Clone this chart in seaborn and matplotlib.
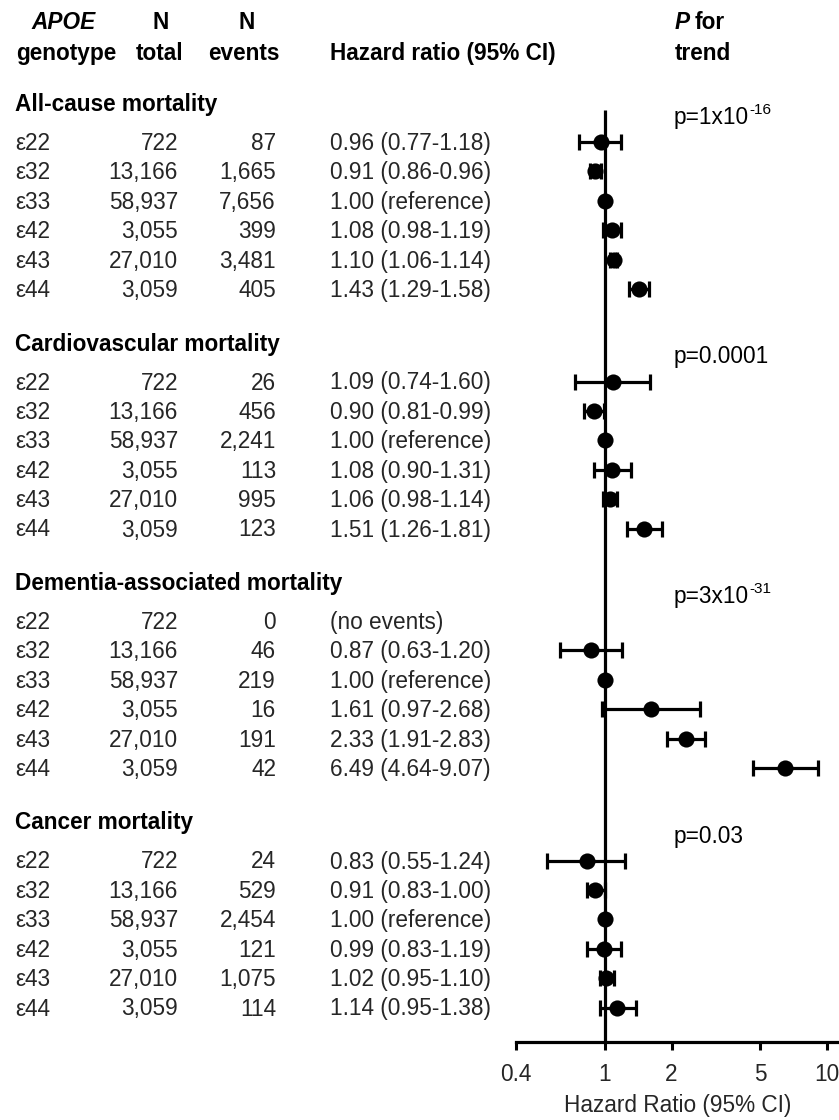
import numpy as np
import pandas as pd
import matplotlib
matplotlib.use("Agg")
import matplotlib.pyplot as plt
import seaborn as sns

# ---------------- data ----------------
outcomes = ["All-cause mortality", "Cardiovascular mortality",
            "Dementia-associated mortality", "Cancer mortality"]
genotypes = ["ε22", "ε32", "ε33", "ε42", "ε43", "ε44"]
n_total = ["722", "13,166", "58,937", "3,055", "27,010", "3,059"]

n_events_allcause = ["87", "1,665", "7,656", "399", "3,481", "405"]
n_events_cardio = ["26", "456", "2,241", "113", "995", "123"]
n_events_dementia = ["0", "46", "219", "16", "191", "42"]
n_events_cancer = ["24", "529", "2,454", "121", "1,075", "114"]

hr_allcause = [0.96, 0.91, 1.00, 1.08, 1.10, 1.43]
lo_allcause = [0.77, 0.86, np.nan, 0.98, 1.06, 1.29]
hi_allcause = [1.18, 0.96, np.nan, 1.19, 1.14, 1.58]

hr_cardio = [1.09, 0.90, 1.00, 1.08, 1.06, 1.51]
lo_cardio = [0.74, 0.81, np.nan, 0.90, 0.98, 1.26]
hi_cardio = [1.60, 0.99, np.nan, 1.31, 1.14, 1.81]

hr_dementia = [np.nan, 0.87, 1.00, 1.61, 2.33, 6.49]
lo_dementia = [np.nan, 0.63, np.nan, 0.97, 1.91, 4.64]
hi_dementia = [np.nan, 1.20, np.nan, 2.68, 2.83, 9.07]

hr_cancer = [0.83, 0.91, 1.00, 0.99, 1.02, 1.14]
lo_cancer = [0.55, 0.83, np.nan, 0.83, 0.95, 0.95]
hi_cancer = [1.24, 1.00, np.nan, 1.19, 1.10, 1.38]

hr_text_allcause = ["0.96 (0.77-1.18)", "0.91 (0.86-0.96)", "1.00 (reference)",
                    "1.08 (0.98-1.19)", "1.10 (1.06-1.14)", "1.43 (1.29-1.58)"]
hr_text_cardio = ["1.09 (0.74-1.60)", "0.90 (0.81-0.99)", "1.00 (reference)",
                  "1.08 (0.90-1.31)", "1.06 (0.98-1.14)", "1.51 (1.26-1.81)"]
hr_text_dementia = ["(no events)", "0.87 (0.63-1.20)", "1.00 (reference)",
                    "1.61 (0.97-2.68)", "2.33 (1.91-2.83)", "6.49 (4.64-9.07)"]
hr_text_cancer = ["0.83 (0.55-1.24)", "0.91 (0.83-1.00)", "1.00 (reference)",
                  "0.99 (0.83-1.19)", "1.02 (0.95-1.10)", "1.14 (0.95-1.38)"]

p_trend_main = ["p=1x10", "p=0.0001", "p=3x10", "p=0.03"]
p_trend_exp = ["-16", "", "-31", ""]

x_ticks = [0.4, 1, 2, 5, 10]
x_ticklabels = ["0.4", "1", "2", "5", "10"]

# ---------------- assemble ----------------
events_all = [n_events_allcause, n_events_cardio, n_events_dementia, n_events_cancer]
hr_all = [hr_allcause, hr_cardio, hr_dementia, hr_cancer]
lo_all = [lo_allcause, lo_cardio, lo_dementia, lo_cancer]
hi_all = [hi_allcause, hi_cardio, hi_dementia, hi_cancer]
txt_all = [hr_text_allcause, hr_text_cardio, hr_text_dementia, hr_text_cancer]

# layout (figure pixel units, y measured from top)
W, H = 839, 1120
GROUP_TOP, GROUP_STEP = 103.0, 239.5
FIRST_ROW, ROW_STEP = 39.0, 29.4
AXIS_Y = 1042
BASE_OFF = 8  # text baseline below visual centre

records = []
for g, outcome in enumerate(outcomes):
    head_y = GROUP_TOP + g * GROUP_STEP
    for i, gt in enumerate(genotypes):
        records.append(dict(outcome=outcome, group=g, row=i, genotype=gt,
                            total=n_total[i], events=events_all[g][i],
                            hr=hr_all[g][i], lo=lo_all[g][i], hi=hi_all[g][i],
                            text=txt_all[g][i],
                            y=head_y + FIRST_ROW + i * ROW_STEP))
df = pd.DataFrame(records)

# ---------------- style ----------------
sns.set_theme(style="white")
plt.rcParams["font.family"] = ["Liberation Sans", "DejaVu Sans"]
FS = 16.3

fig = plt.figure(figsize=(W / 100, H / 100), dpi=100)
fig.patch.set_facecolor("white")

# text canvas in pixel coordinates
tax = fig.add_axes([0, 0, 1, 1])
tax.set_xlim(0, W)
tax.set_ylim(H, 0)
tax.axis("off")

# forest axes, y in same pixel coordinates
x_left = 516
ax = fig.add_axes([x_left / W, (H - AXIS_Y) / H, (W - x_left) / W, AXIS_Y / H])
ax.set_xscale("log")
ax.set_xlim(0.4, 11.3)
ax.set_ylim(AXIS_Y, 0)
ax.patch.set_alpha(0)
ax.set_zorder(2)

# column headers
hb = dict(fontsize=FS, fontweight="bold", color="black")
tax.text(64, 29, "APOE", ha="center", va="baseline", style="italic", **hb)
tax.text(16, 60, "genotype", ha="left", va="baseline", **hb)
tax.text(161, 29, "N", ha="center", va="baseline", **hb)
tax.text(160, 60, "total", ha="center", va="baseline", **hb)
tax.text(247, 29, "N", ha="center", va="baseline", **hb)
tax.text(244, 60, "events", ha="center", va="baseline", **hb)
tax.text(330, 60, "Hazard ratio (95% CI)", ha="left", va="baseline", **hb)
tax.text(675, 29, "P", ha="left", va="baseline", style="italic", **hb)
tax.text(695, 29, "for", ha="left", va="baseline", **hb)
tax.text(675, 60, "trend", ha="left", va="baseline", **hb)

# group headers and p values
fig.canvas.draw()
renderer = fig.canvas.get_renderer()
inv = tax.transData.inverted()
for g, outcome in enumerate(outcomes):
    head_y = GROUP_TOP + g * GROUP_STEP
    tax.text(15, head_y + BASE_OFF, outcome, ha="left", va="baseline", **hb)
    pbase = head_y + 13 + BASE_OFF
    t = tax.text(674, pbase, p_trend_main[g], ha="left", va="baseline",
                 fontsize=FS, color="black")
    if p_trend_exp[g]:
        bb = t.get_window_extent(renderer=renderer)
        x_end = inv.transform((bb.x1, bb.y0))[0]
        tax.text(x_end + 0.5, pbase - 10, p_trend_exp[g], ha="left",
                 va="baseline", fontsize=FS * 0.68, color="black")

# table rows
for _, r in df.iterrows():
    yb = r["y"] + BASE_OFF
    tax.text(15, yb, r["genotype"], ha="left", va="baseline", fontsize=FS)
    tax.text(178, yb, r["total"], ha="right", va="baseline", fontsize=FS)
    tax.text(276, yb, r["events"], ha="right", va="baseline", fontsize=FS)
    tax.text(330, yb, r["text"], ha="left", va="baseline", fontsize=FS)

# reference line at HR = 1
ax.vlines(1, GROUP_TOP + 7, AXIS_Y, color="black", lw=2.3, zorder=1)

# confidence intervals
ci = df.dropna(subset=["lo"])
ax.errorbar(ci["hr"], ci["y"],
            xerr=[ci["hr"] - ci["lo"], ci["hi"] - ci["hr"]],
            fmt="none", ecolor="black", elinewidth=2.3, capsize=5.5,
            capthick=2.3, zorder=3)

# point estimates
pts = df.dropna(subset=["hr"])
sns.scatterplot(data=pts, x="hr", y="y", ax=ax, color="black", s=135,
                edgecolor="black", linewidth=0, zorder=4, legend=False)

# axis styling
for side in ["left", "right", "top"]:
    ax.spines[side].set_visible(False)
ax.spines["bottom"].set_linewidth(2.3)
ax.spines["bottom"].set_color("black")
ax.set_yticks([])
ax.set_xticks(x_ticks)
ax.set_xticklabels(x_ticklabels)
ax.xaxis.set_minor_locator(matplotlib.ticker.NullLocator())
ax.tick_params(axis="x", which="major", direction="out", length=6, width=2.2,
               color="black", labelsize=FS, pad=9, bottom=True)
ax.set_xlabel("Hazard Ratio (95% CI)", fontsize=FS, labelpad=6)
ax.set_ylabel("")

fig.savefig("out.png", dpi=100, facecolor="white")
